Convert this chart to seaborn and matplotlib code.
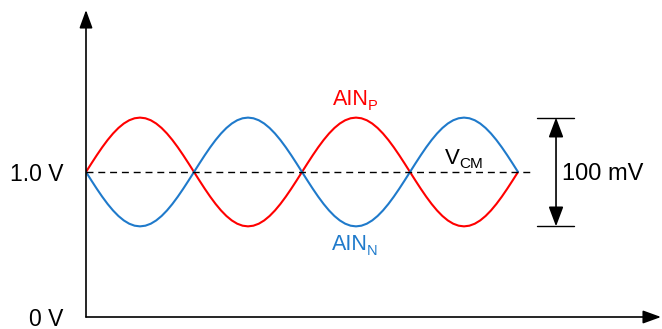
import numpy as np
import pandas as pd
import matplotlib
matplotlib.use("Agg")
import matplotlib.pyplot as plt
import seaborn as sns

# ---- data (schematic) ----
vcm = 1.0                 # common-mode voltage (V)
cycles = 2                # number of sine periods shown
amp_display = 0.375       # displayed amplitude (schematic, axis units)
n_points = 81
ytick_vals = [0.0, 1.0]
ytick_labels = ["0 V", "1.0 V"]
series_names = ["AINP", "AINN"]
span_label = "100 mV"

RED = "#FF0000"
BLUE = "#1F7ACB"

sns.set_style("white")
plt.rcParams["font.family"] = ["Liberation Sans", "DejaVu Sans"]

t = np.linspace(0, cycles, n_points)
ainp = vcm + amp_display * np.sin(2 * np.pi * t)
ainn = vcm - amp_display * np.sin(2 * np.pi * t)
df = pd.DataFrame({
    "t": np.concatenate([t, t]),
    "v": np.concatenate([ainp, ainn]),
    "sig": [series_names[0]] * len(t) + [series_names[1]] * len(t),
})

W, H = 662, 329
fig = plt.figure(figsize=(W / 100, H / 100), dpi=100)
ax = fig.add_axes([86 / W, 12 / H, (661 - 86) / W, (317 - 10) / H])
ax.set_xlim(0, 2.662)
ax.set_ylim(0, 2.117)

sns.lineplot(data=df, x="t", y="v", hue="sig", palette={series_names[0]: RED, series_names[1]: BLUE},
             ax=ax, legend=False, lw=1.5, sort=False, estimator=None)

# dashed common mode line
ax.plot([0, 2.065], [vcm, vcm], ls=(0, (5, 3.5)), color="black", lw=1.0)

# axes styling
for s in ax.spines.values():
    s.set_visible(False)
ax.set_xlabel("")
ax.set_ylabel("")
ax.set_xticks([0])
ax.set_xticklabels([""])
ax.set_yticks(ytick_vals)
ax.set_yticklabels(ytick_labels, fontsize=16.5)
ax.tick_params(axis="y", direction="out", length=7, width=1.1, pad=9, colors="black")
ax.tick_params(axis="x", direction="out", length=7, width=1.1, colors="black")

arrow = dict(arrowstyle="-|>,head_length=1.1,head_width=0.4", color="black", lw=1.2,
             shrinkA=0, shrinkB=0)
ax.annotate("", xy=(1, 0), xytext=(0, 0), xycoords="axes fraction", arrowprops=arrow)
ax.annotate("", xy=(0, 1), xytext=(0, 0), xycoords="axes fraction", arrowprops=arrow)

# 100 mV bracket
top, bot = vcm + amp_display, vcm - amp_display
ax.plot([2.088, 2.259], [top, top], color="black", lw=1.0, clip_on=False)
ax.plot([2.088, 2.259], [bot, bot], color="black", lw=1.0, clip_on=False)
ax.annotate("", xy=(2.176, top), xytext=(2.176, bot),
            arrowprops=dict(arrowstyle="<|-|>,head_length=1.2,head_width=0.45", color="black",
                            lw=1.2, shrinkA=0, shrinkB=0))
ax.text(2.204, 0.945, span_label, fontsize=17, va="baseline", ha="left", color="black")


def sub_label(x, y, main, sub, color, size=15.5, subsize=10.5, drop=-2.5):
    tx = ax.text(x, y, main, color=color, fontsize=size, va="baseline", ha="left")
    ax.annotate(sub, xy=(1, 0), xycoords=tx, xytext=(-0.6, drop), textcoords="offset points",
                color=color, fontsize=subsize, va="bottom", ha="left")


sub_label(1.144, 1.462, "AIN", "P", RED)
sub_label(1.139, 0.462, "AIN", "N", BLUE)
sub_label(1.662, 1.055, "V", "CM", "black", size=16, subsize=11, drop=-1.5)

fig.savefig("out.png", dpi=100)
